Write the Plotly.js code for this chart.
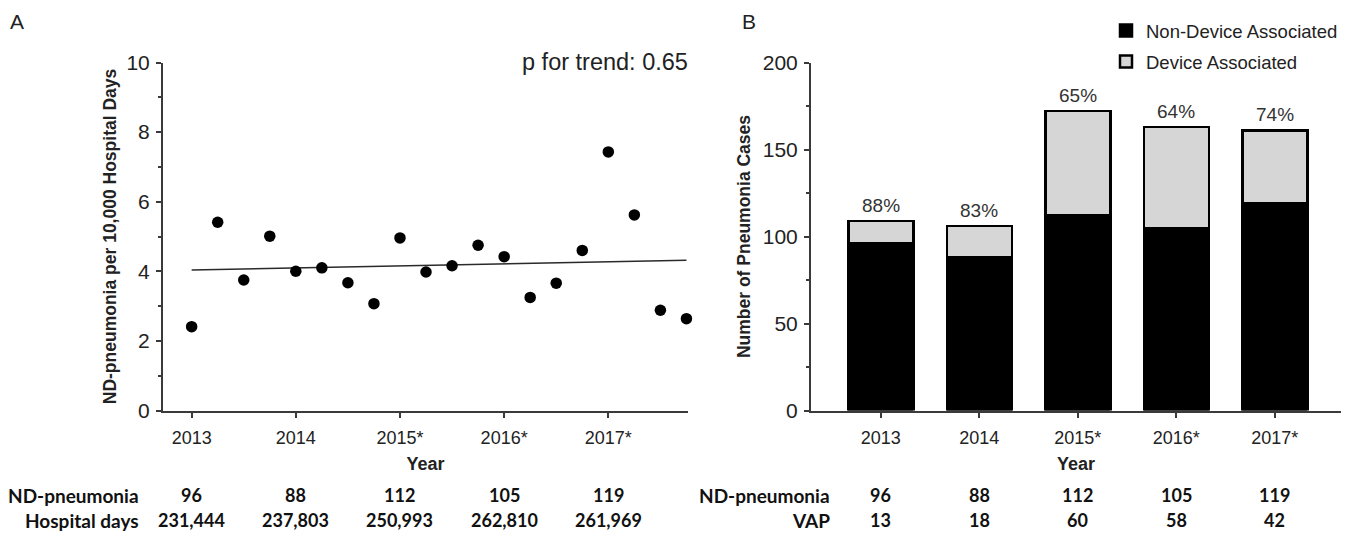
<!DOCTYPE html>
<html>
<head>
<meta charset="utf-8">
<script src="https://cdn.plot.ly/plotly-3.0.1.min.js"></script>
<style>
html,body{margin:0;padding:0;background:#fff;}
#chart{width:1358px;height:536px;}
</style>
</head>
<body>
<div id="chart"></div>
<script>
// ---------- Panel A data ----------
const quarterX = [2013.0, 2013.25, 2013.5, 2013.75, 2014.0, 2014.25, 2014.5, 2014.75,
                  2015.0, 2015.25, 2015.5, 2015.75, 2016.0, 2016.25, 2016.5, 2016.75,
                  2017.0, 2017.25, 2017.5, 2017.75];
const rateA = [2.41, 5.41, 3.75, 5.01, 4.00, 4.10, 3.67, 3.07,
               4.96, 3.98, 4.16, 4.75, 4.42, 3.25, 3.66, 4.60,
               7.43, 5.62, 2.88, 2.64];
const trendX = [2013.0, 2017.75];
const trendY = [4.04, 4.32];
const yearTickVals = [2013, 2014, 2015, 2016, 2017];
const yearLabels = ['2013', '2014', '2015*', '2016*', '2017*'];
const ndPneumonia = [96, 88, 112, 105, 119];
const hospitalDays = ['231,444', '237,803', '250,993', '262,810', '261,969'];
// ---------- Panel B data ----------
const vap = [13, 18, 60, 58, 42];
const pTrendText = 'p for trend: 0.65';

const axisColor = '#3a3a3a';
const textColor = '#222222';
const arial = 'Liberation Sans, Arial, sans-serif';
const tableFont = 'Lato, Carlito, Calibri, sans-serif';

const totals = ndPneumonia.map((v, i) => v + vap[i]);
const pctLabels = ndPneumonia.map((v, i) => Math.round(v / totals[i] * 100) + '%');

const traces = [
  {
    type: 'scatter', mode: 'lines', x: trendX, y: trendY,
    xaxis: 'x', yaxis: 'y', line: {color: '#2a2a2a', width: 1.5},
    showlegend: false, hoverinfo: 'skip'
  },
  {
    type: 'scatter', mode: 'markers', x: quarterX, y: rateA,
    xaxis: 'x', yaxis: 'y', marker: {color: '#000', size: 11.5},
    showlegend: false, cliponaxis: false
  },
  {
    type: 'bar', name: 'Non-Device Associated', x: yearLabels, y: ndPneumonia,
    xaxis: 'x2', yaxis: 'y2', width: 0.66, legendgroup: 'nd',
    marker: {color: '#000000', line: {color: '#000', width: 2.5}}
  },
  {
    type: 'bar', name: 'Device Associated', x: yearLabels, y: vap,
    xaxis: 'x2', yaxis: 'y2', width: 0.66, legendgroup: 'da',
    marker: {color: '#d6d6d6', line: {color: '#000', width: 2.5}}
  }
];

const commonAxis = {
  showline: true, linecolor: axisColor, linewidth: 2,
  ticks: 'outside', ticklen: 5, tickwidth: 2, tickcolor: axisColor,
  showgrid: false, zeroline: false, fixedrange: true
};

const annotations = [
  {text: 'A', xref: 'paper', yref: 'paper', x: 8/1358, y: 1 - 22/536, xanchor: 'left', yanchor: 'middle',
   showarrow: false, font: {family: arial, size: 21, color: textColor}},
  {text: 'B', xref: 'paper', yref: 'paper', x: 740/1358, y: 1 - 22/536, xanchor: 'left', yanchor: 'middle',
   showarrow: false, font: {family: arial, size: 21, color: textColor}},
  {text: pTrendText, xref: 'paper', yref: 'paper', x: 690/1358, y: 1 - 62/536, xanchor: 'right', yanchor: 'middle',
   showarrow: false, font: {family: arial, size: 23.5, color: textColor}},
  {text: '<b>ND-pneumonia</b>', xref: 'paper', yref: 'paper', x: 141/1358, y: 1 - 495/536, xanchor: 'right', yanchor: 'middle',
   showarrow: false, font: {family: tableFont, size: 19, color: '#111'}},
  {text: '<b>Hospital days</b>', xref: 'paper', yref: 'paper', x: 141/1358, y: 1 - 520/536, xanchor: 'right', yanchor: 'middle',
   showarrow: false, font: {family: tableFont, size: 19, color: '#111'}},
  {text: '<b>ND-pneumonia</b>', xref: 'paper', yref: 'paper', x: 832/1358, y: 1 - 495/536, xanchor: 'right', yanchor: 'middle',
   showarrow: false, font: {family: tableFont, size: 19, color: '#111'}},
  {text: '<b>VAP</b>', xref: 'paper', yref: 'paper', x: 832/1358, y: 1 - 520/536, xanchor: 'right', yanchor: 'middle',
   showarrow: false, font: {family: tableFont, size: 19, color: '#111'}}
];
yearTickVals.forEach((yr, i) => {
  annotations.push({text: '<b>' + ndPneumonia[i] + '</b>', xref: 'x', yref: 'paper', x: yr, y: 1 - 495/536,
    xanchor: 'center', yanchor: 'middle', showarrow: false, font: {family: tableFont, size: 18, color: '#111'}});
  annotations.push({text: '<b>' + hospitalDays[i] + '</b>', xref: 'x', yref: 'paper', x: yr, y: 1 - 520/536,
    xanchor: 'center', yanchor: 'middle', showarrow: false, font: {family: tableFont, size: 18, color: '#111'}});
});
yearLabels.forEach((lab, i) => {
  annotations.push({text: '<b>' + ndPneumonia[i] + '</b>', xref: 'x2', yref: 'paper', x: i, y: 1 - 495/536,
    xanchor: 'center', yanchor: 'middle', showarrow: false, font: {family: tableFont, size: 18, color: '#111'}});
  annotations.push({text: '<b>' + vap[i] + '</b>', xref: 'x2', yref: 'paper', x: i, y: 1 - 520/536,
    xanchor: 'center', yanchor: 'middle', showarrow: false, font: {family: tableFont, size: 18, color: '#111'}});
  annotations.push({text: pctLabels[i], xref: 'x2', yref: 'y2', x: i, y: totals[i],
    xanchor: 'center', yanchor: 'bottom', yshift: 3, showarrow: false,
    font: {family: arial, size: 19, color: '#333'}});
});

const yDomain = [(536 - 410.5) / 536, (536 - 62.5) / 536];

const layout = {
  width: 1358, height: 536, autosize: false,
  margin: {l: 0, r: 0, t: 0, b: 0},
  paper_bgcolor: '#fff', plot_bgcolor: '#fff',
  font: {family: arial, color: textColor},
  barmode: 'stack',
  showlegend: true,
  legend: {
    x: 1106/1358, y: 1 - 12/536, xanchor: 'left', yanchor: 'top',
    traceorder: 'grouped', tracegroupgap: 4,
    font: {family: arial, size: 18.5, color: textColor},
    bgcolor: 'rgba(0,0,0,0)', borderwidth: 0
  },
  xaxis: Object.assign({}, commonAxis, {
    domain: [163/1358, 688/1358], range: [2012.725, 2017.765],
    tickvals: yearTickVals, ticktext: yearLabels,
    tickfont: {family: arial, size: 18, color: textColor}, ticklabelstandoff: 5,
    title: {text: '<b>Year</b>', font: {family: arial, size: 18, color: textColor}, standoff: 10},
    anchor: 'y'
  }),
  yaxis: Object.assign({}, commonAxis, {
    domain: yDomain, range: [0, 10], tickvals: [0, 2, 4, 6, 8, 10],
    tickfont: {family: arial, size: 21, color: textColor}, ticklabelstandoff: 2,
    minor: {ticks: 'outside', dtick: 1, tick0: 0, ticklen: 3, tickwidth: 2, tickcolor: axisColor},
    title: {text: '<b>ND-pneumonia per 10,000 Hospital Days</b>', font: {family: arial, size: 17.5, color: textColor}, standoff: 5},
    anchor: 'x'
  }),
  xaxis2: Object.assign({}, commonAxis, {
    domain: [811/1358, 1341/1358], range: [-0.709, 4.672], type: 'category',
    tickfont: {family: arial, size: 18, color: textColor}, ticklabelstandoff: 5,
    title: {text: '<b>Year</b>', font: {family: arial, size: 18, color: textColor}, standoff: 10},
    anchor: 'y2'
  }),
  yaxis2: Object.assign({}, commonAxis, {
    domain: yDomain, range: [0, 200], tickvals: [0, 50, 100, 150, 200],
    tickfont: {family: arial, size: 21, color: textColor}, ticklabelstandoff: 2,
    minor: {ticks: 'outside', dtick: 25, tick0: 0, ticklen: 3, tickwidth: 2, tickcolor: axisColor},
    title: {text: '<b>Number of Pneumonia Cases</b>', font: {family: arial, size: 17.5, color: textColor}, standoff: 8},
    anchor: 'x2'
  }),
  annotations: annotations
};

Plotly.newPlot('chart', traces, layout, {staticPlot: true, displayModeBar: false});
</script>
</body>
</html>
